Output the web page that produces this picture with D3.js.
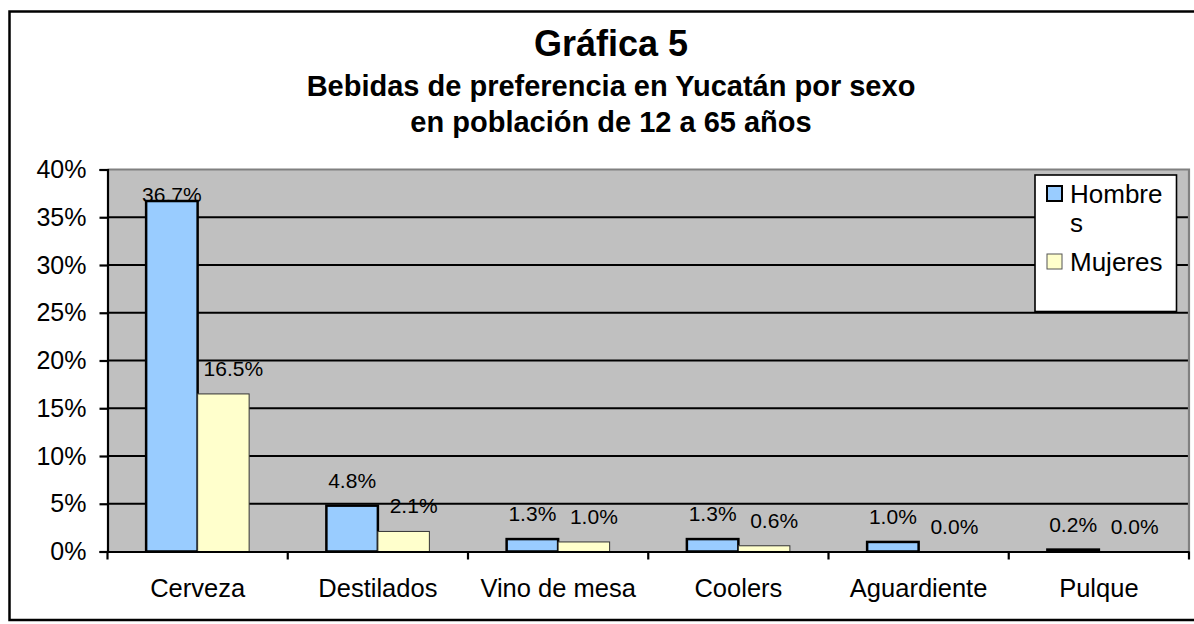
<!DOCTYPE html>
<html>
<head>
<meta charset="utf-8">
<script src="https://cdn.jsdelivr.net/npm/d3@7"></script>
<style>
  body { margin: 0; background: #fff; }
  svg text { font-family: "Liberation Sans", Arial, sans-serif; fill: #000; }
</style>
</head>
<body>
<svg id="chart" width="1194" height="624"></svg>
<script>
const categories = ["Cerveza", "Destilados", "Vino de mesa", "Coolers", "Aguardiente", "Pulque"];
const seriesNames = ["Hombres", "Mujeres"];
const hombres = [0.367, 0.048, 0.013, 0.013, 0.010, 0.002];
const mujeres = [0.165, 0.021, 0.010, 0.006, 0.000, 0.000];
const yTicks = [0, 0.05, 0.10, 0.15, 0.20, 0.25, 0.30, 0.35, 0.40];
const titleText = "Gráfica 5";
const subtitleLines = ["Bebidas de preferencia en Yucatán por sexo", "en población de 12 a 65 años"];

const colors = { Hombres: "#99CCFF", Mujeres: "#FFFFCC" };

const svg = d3.select("#chart");
const plot = { left: 107.5, right: 1189, top: 169.5, bottom: 551.5 };

// outer frame
svg.append("rect")
    .attr("x", 9.5).attr("y", 11.5)
    .attr("width", 1190).attr("height", 608.5)
    .attr("fill", "#fff").attr("stroke", "#000").attr("stroke-width", 2.5);

// titles
svg.append("text")
    .attr("x", 611).attr("y", 56)
    .attr("text-anchor", "middle")
    .style("font-size", "36px").style("font-weight", "bold")
    .text(titleText);

svg.selectAll(".subtitle")
    .data(subtitleLines)
    .join("text")
    .attr("class", "subtitle")
    .attr("x", 611)
    .attr("y", (d, i) => 96 + i * 36)
    .attr("text-anchor", "middle")
    .style("font-size", "29px").style("font-weight", "bold")
    .text(d => d);

const x0 = d3.scaleBand().domain(categories).range([plot.left, plot.right]);
const x1 = d3.scaleBand().domain(seriesNames).range([0, x0.bandwidth()]).paddingOuter(0.75);
const y = d3.scaleLinear().domain([0, 0.4]).range([plot.bottom, plot.top]);

// plot background
svg.append("rect")
    .attr("x", plot.left).attr("y", plot.top)
    .attr("width", plot.right - plot.left).attr("height", plot.bottom - plot.top)
    .attr("fill", "#C0C0C0");

// gridlines
svg.append("g")
    .selectAll("line")
    .data(yTicks.filter(t => t > 0 && t < 0.4))
    .join("line")
    .attr("x1", plot.left).attr("x2", plot.right)
    .attr("y1", d => y(d)).attr("y2", d => y(d))
    .attr("stroke", "#000").attr("stroke-width", 2.2);

// plot border top/right (gray)
svg.append("path")
    .attr("d", `M${plot.left},${plot.top}H${plot.right}V${plot.bottom}`)
    .attr("fill", "none").attr("stroke", "#808080").attr("stroke-width", 2.2);

// bars
const rows = categories.map((c, i) => ({ cat: c, Hombres: hombres[i], Mujeres: mujeres[i] }));

const groups = svg.append("g")
    .selectAll("g")
    .data(rows)
    .join("g")
    .attr("transform", d => `translate(${x0(d.cat)},0)`);

groups.selectAll("rect")
    .data(d => seriesNames.map(s => ({ s, v: d[s] })))
    .join("rect")
    .attr("x", d => x1(d.s))
    .attr("y", d => y(d.v))
    .attr("width", x1.bandwidth())
    .attr("height", d => y(0) - y(d.v))
    .attr("fill", d => colors[d.s])
    .attr("stroke", d => d.s === "Hombres" ? "#000" : "#333")
    .attr("stroke-width", d => d.s === "Hombres" ? 2.5 : 1)
    .attr("stroke-opacity", d => d.v > 0 ? 1 : 0);

// data labels
groups.selectAll("text")
    .data(d => seriesNames.map(s => ({ s, v: d[s] })))
    .join("text")
    .attr("x", d => x1(d.s) + x1.bandwidth() / 2 + (d.s === "Mujeres" ? 10 : 0))
    .attr("y", d => Math.max(y(d.v) - 18, plot.top + 32))
    .attr("text-anchor", "middle")
    .style("font-size", "21px")
    .text(d => d3.format(".1%")(d.v));

// y axis
const yAxis = svg.append("g")
    .attr("transform", `translate(${plot.left},0)`)
    .call(d3.axisLeft(y).tickValues(yTicks).tickFormat(d3.format(".0%")).tickSize(8).tickPadding(13));
yAxis.selectAll("path, line").attr("stroke", "#000").attr("stroke-width", 2.2);
yAxis.selectAll("text").style("font-size", "25px").attr("font-family", null);

// x axis
const xAxis = svg.append("g")
    .attr("transform", `translate(0,${plot.bottom})`)
    .call(d3.axisBottom(x0).tickSize(0).tickPadding(27));
xAxis.select(".domain").attr("stroke", "#000").attr("stroke-width", 2.2);
xAxis.selectAll("text").style("font-size", "25.5px").attr("font-family", null);

svg.append("g")
    .selectAll("line")
    .data(categories.map(c => x0(c)).concat([x0.range()[1]]))
    .join("line")
    .attr("x1", d => d).attr("x2", d => d)
    .attr("y1", plot.bottom).attr("y2", plot.bottom + 8)
    .attr("stroke", "#000").attr("stroke-width", 2.2);

// legend
const legend = svg.append("g").attr("transform", "translate(1035,175)");
legend.append("rect")
    .attr("width", 141.5).attr("height", 136.5)
    .attr("fill", "#fff").attr("stroke", "#000").attr("stroke-width", 1.6);

const legendItems = [
    { s: "Hombres", lines: ["Hombre", "s"], top: 10 },
    { s: "Mujeres", lines: ["Mujeres"], top: 78 }
];
legendItems.forEach(item => {
    legend.append("rect")
        .attr("x", 12).attr("y", item.top + 1)
        .attr("width", 15).attr("height", 15)
        .attr("fill", colors[item.s])
        .attr("stroke", item.s === "Hombres" ? "#000" : "#555")
        .attr("stroke-width", item.s === "Hombres" ? 2 : 1);
    item.lines.forEach((t, j) => {
        legend.append("text")
            .attr("x", 35).attr("y", item.top + 18 + j * 28.5)
            .style("font-size", "26px")
            .text(t);
    });
});
</script>
</body>
</html>
